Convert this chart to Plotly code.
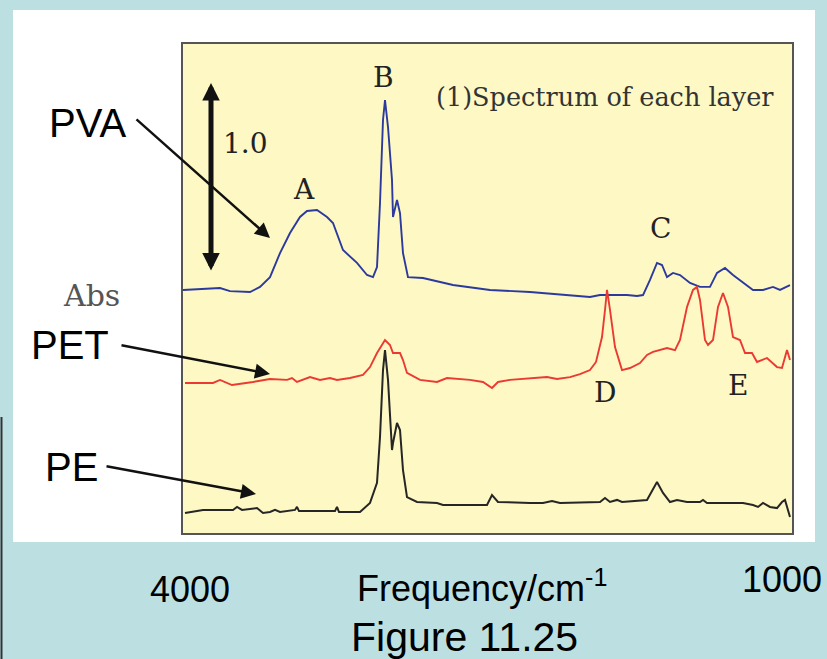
import plotly.graph_objects as go

# ---------------- data (wavenumber / cm-1, stacked absorbance) ----------------
pva_wn = [4000, 3915, 3815, 3765, 3665, 3615, 3565, 3515, 3465, 3415, 3380, 3330, 3280, 3250,
          3200, 3130, 3080, 3050, 3030, 3015, 3000, 2990, 2975, 2955, 2950, 2930, 2915, 2900,
          2875, 2800, 2650, 2465, 2265, 1965, 1915, 1780, 1730, 1700, 1665, 1630, 1605, 1580,
          1550, 1515, 1465, 1415, 1365, 1330, 1290, 1250, 1200, 1150, 1100, 1050, 1015, 965]
pva_abs = [1.286, 1.291, 1.296, 1.280, 1.275, 1.302, 1.354, 1.481, 1.587, 1.672, 1.704, 1.709,
           1.672, 1.640, 1.497, 1.429, 1.365, 1.354, 1.407, 1.746, 2.185, 2.291, 2.148, 1.868,
           1.672, 1.762, 1.693, 1.481, 1.354, 1.349, 1.312, 1.286, 1.275, 1.249, 1.259, 1.259,
           1.254, 1.259, 1.339, 1.429, 1.418, 1.354, 1.376, 1.365, 1.323, 1.302, 1.302, 1.376,
           1.402, 1.365, 1.323, 1.286, 1.286, 1.302, 1.286, 1.312]

pet_wn = [3990, 3850, 3815, 3755, 3650, 3565, 3480, 3455, 3430, 3365, 3315, 3265, 3230, 3165,
          3100, 3065, 3030, 2990, 2965, 2950, 2915, 2900, 2880, 2815, 2730, 2680, 2565, 2500,
          2455, 2425, 2365, 2265, 2180, 2130, 2065, 2015, 1965, 1935, 1905, 1890, 1880, 1865,
          1840, 1805, 1765, 1715, 1680, 1650, 1615, 1580, 1540, 1515, 1480, 1450, 1430, 1415,
          1390, 1375, 1350, 1325, 1300, 1275, 1250, 1215, 1190, 1155, 1130, 1080, 1030, 1005,
          980, 965]
pet_abs = [0.794, 0.794, 0.810, 0.783, 0.799, 0.815, 0.810, 0.820, 0.799, 0.825, 0.810, 0.820,
           0.810, 0.820, 0.836, 0.878, 0.952, 1.021, 0.995, 0.952, 0.952, 0.915, 0.847, 0.810,
           0.799, 0.820, 0.810, 0.799, 0.767, 0.799, 0.810, 0.820, 0.825, 0.815, 0.825, 0.841,
           0.862, 0.905, 1.037, 1.180, 1.286, 1.180, 0.984, 0.862, 0.873, 0.899, 0.942, 0.958,
           0.968, 0.979, 0.968, 1.021, 1.196, 1.286, 1.302, 1.233, 1.021, 0.995, 1.021, 1.196,
           1.270, 1.196, 1.037, 1.021, 0.952, 0.952, 0.905, 0.926, 0.878, 0.873, 0.968, 0.915]

pe_wn = [3990, 3900, 3750, 3730, 3705, 3630, 3600, 3565, 3540, 3515, 3440, 3430, 3420, 3240,
         3230, 3220, 3115, 3065, 3030, 3015, 3000, 2990, 2975, 2955, 2950, 2930, 2915, 2900,
         2880, 2830, 2730, 2700, 2565, 2480, 2455, 2425, 2265, 2200, 2155, 2115, 1915, 1890,
         1865, 1830, 1805, 1680, 1630, 1600, 1565, 1530, 1480, 1415, 1400, 1380, 1280, 1200,
         1150, 1125, 1100, 1065, 1030, 1005, 990, 975, 965]
pe_abs = [0.106, 0.122, 0.122, 0.138, 0.122, 0.132, 0.106, 0.111, 0.122, 0.111, 0.122, 0.138,
          0.116, 0.116, 0.138, 0.111, 0.111, 0.159, 0.265, 0.508, 0.862, 0.968, 0.810, 0.439,
          0.476, 0.582, 0.545, 0.333, 0.190, 0.164, 0.159, 0.148, 0.148, 0.148, 0.201, 0.164,
          0.159, 0.159, 0.169, 0.159, 0.164, 0.185, 0.164, 0.175, 0.164, 0.175, 0.270, 0.212,
          0.164, 0.175, 0.164, 0.164, 0.175, 0.159, 0.159, 0.159, 0.148, 0.138, 0.159, 0.138,
          0.132, 0.164, 0.175, 0.122, 0.085]

peak_labels = ["A", "B", "C", "D", "E"]
layer_names = ["PVA", "PET", "PE"]
x_end_labels = ["4000", "1000"]
x_title = "Frequency/cm<sup>-1</sup>"
y_title = "Abs"
scale_label = "1.0"
panel_title = "(1)Spectrum of each layer"
caption = "Figure 11.25"

# ---------------- layout helpers (pixel -> paper) ----------------
W, H = 827, 659
L, R, T, B = 183, 792, 44, 533


def px(x):
    return (x - L) / (R - L)


def py(y):
    return (B - y) / (B - T)


BG = "#bce0e2"
YEL = "#fdf8c4"
SERIF = "DejaVu Serif"
SANS = "Liberation Sans, Arial"

fig = go.Figure()
fig.add_trace(go.Scatter(x=pva_wn, y=pva_abs, mode="lines", name="PVA",
                         line=dict(color="#2c3a9e", width=1.9)))
fig.add_trace(go.Scatter(x=pet_wn, y=pet_abs, mode="lines", name="PET",
                         line=dict(color="#ea3a32", width=1.9)))
fig.add_trace(go.Scatter(x=pe_wn, y=pe_abs, mode="lines", name="PE",
                         line=dict(color="#262626", width=2)))

shapes = [
    dict(type="rect", xref="paper", yref="paper", layer="below",
         x0=px(13), x1=px(815), y0=py(542), y1=py(10),
         fillcolor="white", line=dict(width=0)),
    dict(type="rect", xref="paper", yref="paper", layer="below",
         x0=0, x1=1, y0=0, y1=1, fillcolor=YEL, line=dict(width=0)),
    dict(type="line", xref="paper", yref="paper",
         x0=px(1.5), x1=px(1.5), y0=py(417), y1=py(659),
         line=dict(color="#333333", width=2)),
]

ann = []


def text(t, x, y, size, family, color="#222222", **kw):
    ann.append(dict(text=t, x=px(x), y=py(y), xref="paper", yref="paper",
                    showarrow=False, xanchor="center", yanchor="middle",
                    font=dict(size=size, family=family, color=color), **kw))


def arrow(x0, y0, x1, y1, width, size, both=False):
    ann.append(dict(text="", x=px(x1), y=py(y1), xref="paper", yref="paper",
                    ax=x0 - x1, ay=y0 - y1, showarrow=True, arrowhead=2,
                    startarrowhead=2, arrowsize=size, startarrowsize=size,
                    arrowwidth=width, arrowcolor="#111111",
                    arrowside="end+start" if both else "end",
                    standoff=0, startstandoff=0))


# peak letters
for lab, (x, y) in zip(peak_labels, [(304, 189), (383, 77), (660, 229), (605, 392), (738, 385)]):
    text(lab, x, y, 28, SERIF)
text(scale_label, 245, 143, 28, SERIF)
text(panel_title, 605, 97, 25.5, SERIF, color="#333333")
text(y_title, 92, 295, 30, SERIF, color="#555555")

# layer labels + arrows
for lab, (x, y) in zip(layer_names, [(87, 123), (70, 345), (71, 467)]):
    text(lab, x, y, 40, SANS, color="#000000")
arrow(135, 118, 270, 238, 2.5, 1.2)
arrow(120, 345, 270, 374, 2.5, 1.2)
arrow(105, 466, 256, 494, 2.5, 1.2)
arrow(211, 272, 211, 83, 5, 0.7, both=True)

# bottom texts
text(x_end_labels[0], 190, 589, 36, SANS, color="#000000")
text(x_end_labels[1], 782, 579, 36, SANS, color="#000000")
text(x_title, 482, 586, 36, SANS, color="#000000")
text(caption, 464, 637, 41, SANS, color="#000000")

fig.update_layout(
    width=W, height=H,
    margin=dict(l=L, r=W - R, t=T, b=H - B, pad=0),
    paper_bgcolor=BG, plot_bgcolor="rgba(0,0,0,0)",
    showlegend=False,
    shapes=shapes, annotations=ann,
    xaxis=dict(range=[4000, 955], showgrid=False, zeroline=False, showticklabels=False,
               ticks="", showline=True, linecolor="#555555", linewidth=2, mirror=True),
    yaxis=dict(range=[0, (B - T) / 189], showgrid=False, zeroline=False, showticklabels=False,
               ticks="", showline=True, linecolor="#555555", linewidth=2, mirror=True),
)

fig.write_html("out.html",
               config={"displayModeBar": False},
               post_script="document.body.style.margin='0';"
                           "document.body.style.background='" + BG + "';")
